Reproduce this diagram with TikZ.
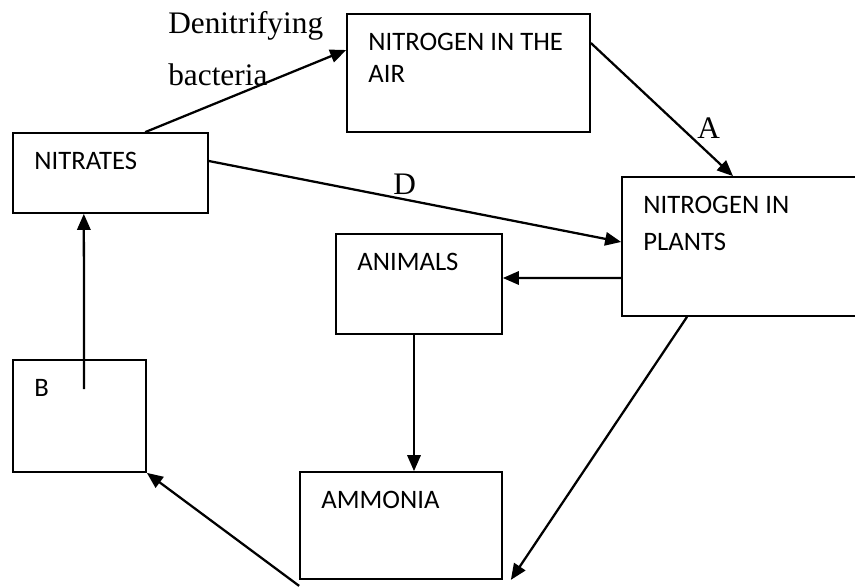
\documentclass[tikz,border=0pt]{standalone}
\usepackage{fontspec}
\setmainfont{Liberation Serif}
\newfontfamily\boxfont{Carlito}
\usetikzlibrary{arrows.meta}

\begin{document}
\begin{tikzpicture}[
    x=0.75pt, y=-0.75pt,
    box/.style={rectangle, draw, line width=1.3pt, inner sep=0pt},
    boxtext/.style={anchor=north west, inner sep=0pt, align=left, xshift=16.5pt, yshift=-15pt, font=\boxfont\fontsize{20}{24}\selectfont},
    arrow/.style={-{Triangle[length=12pt, width=10pt]}, line width=1.7pt},
    lbl/.style={inner sep=0pt, anchor=north west, align=left, font=\fontsize{23.5}{39}\selectfont}
]
    \useasboundingbox (0,0) rectangle (855,586);

    % boxes
    \node[box, minimum width=182.25pt, minimum height=88.5pt, label={[boxtext]north west:NITROGEN IN THE\\AIR}] (air) at (468.5,73) {};
    \node[box, minimum width=146.25pt, minimum height=60pt, label={[boxtext]north west:NITRATES}] (nitrates) at (110.5,173) {};
    \node[box, minimum width=193.5pt, minimum height=104.25pt, label={[boxtext]north west:NITROGEN IN\\[3.75pt]PLANTS}] (plants) at (751,246.5) {};
    \node[box, minimum width=124.5pt, minimum height=75pt, label={[boxtext]north west:ANIMALS}] (animals) at (419,284) {};
    \node[box, minimum width=99.75pt, minimum height=84pt, label={[boxtext]north west:B}] (b) at (79.5,416) {};
    \node[box, minimum width=151.5pt, minimum height=80.25pt, label={[boxtext]north west:AMMONIA}] (ammonia) at (401,525.5) {};

    % labels
    \node[lbl] (denit) at (168,11) {Denitrifying\\bacteria};
    \node[lbl] (dlbl) at (393,174) {D};
    \node[lbl] (albl) at (697,118) {A};

    % arrows
    \draw[arrow] ([xshift=26pt]nitrates.north) -- ([yshift=17.25pt]air.west);
    \draw[arrow] ([yshift=22.5pt]air.east) -- ([xshift=-13.5pt]plants.north);
    \draw[arrow] ([yshift=9pt]nitrates.east) -- ([yshift=3.4pt]plants.west);
    \draw[arrow] ([yshift=-23.6pt]plants.west) -- ([yshift=4.5pt]animals.east);
    \draw[arrow] ([xshift=-3.75pt]animals.south) -- ([xshift=9.75pt]ammonia.north);
    \draw[arrow] ([xshift=-48pt]plants.south) -- ([xshift=6pt]ammonia.south east);
    \draw[arrow] ([yshift=-4.5pt]ammonia.south west) -- (b.south east);
    \draw[arrow] ([shift={(3.4pt,-22.5pt)}]b.north) -- ([xshift=-20pt]nitrates.south);
\end{tikzpicture}
\end{document}
